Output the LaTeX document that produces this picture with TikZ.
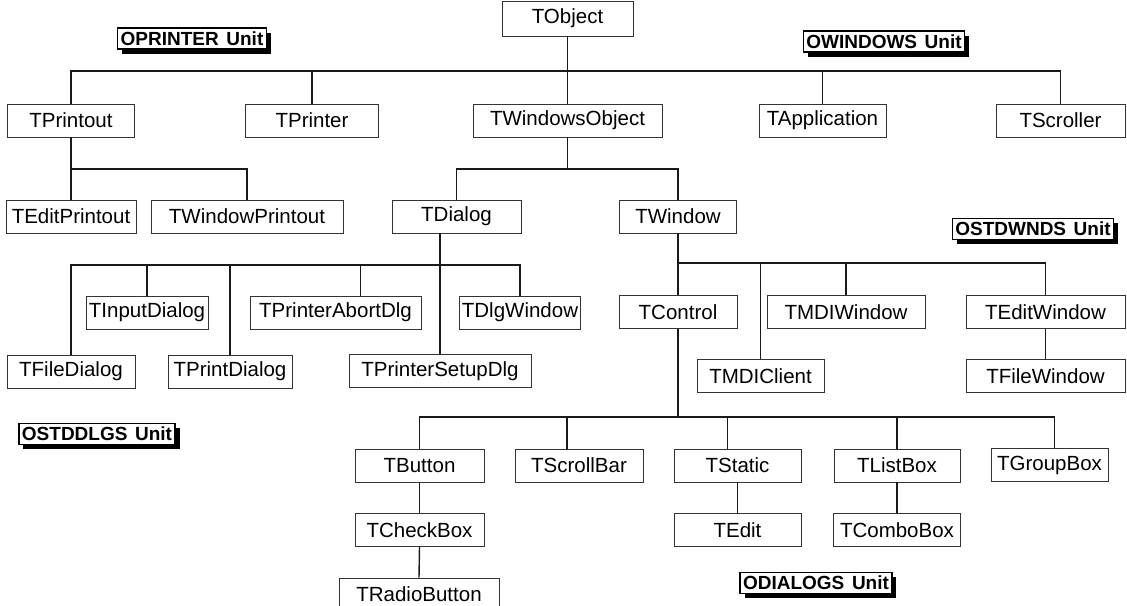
\documentclass[tikz,border=0pt]{standalone}
\usepackage{fontspec}
\setmainfont{Liberation Sans}
\usetikzlibrary{shadows}
\begin{document}
\begin{tikzpicture}[x=1pt,y=-1pt,
  cls/.style={draw=black!80, line width=0.8pt, inner sep=0pt, minimum height=33pt,
    font=\fontsize{20.5}{24}\selectfont, text=black},
  link/.style={line width=1.4pt, draw=black!90},
  unitlbl/.style={draw, line width=1.3pt, fill=white, inner xsep=3pt, inner ysep=1pt,
    minimum height=21pt, font=\bfseries\fontsize{19}{21}\selectfont,
    drop shadow={shadow xshift=4.5pt, shadow yshift=-4.5pt, fill=black, opacity=1}}]
\useasboundingbox (0,0) rectangle (1127,605);
\clip (0,0) rectangle (1127,605);

% unit labels
\node[unitlbl] (uprinter) at (192,38.5) {OPRINTER\hspace{0.4em}Unit};
\node[unitlbl] (uwindows) at (884,41.5) {OWINDOWS\hspace{0.4em}Unit};
\node[unitlbl] (ustdwnds) at (1033,229) {OSTDWNDS\hspace{0.4em}Unit};
\node[unitlbl] (ustddlgs) at (97,434) {OSTDDLGS\hspace{0.4em}Unit};
\node[unitlbl] (udialogs) at (816,583) {ODIALOGS\hspace{0.4em}Unit};

% level 0
\node[cls, minimum width=131pt, minimum height=35pt] (TObject) at (567.5,18.5) {TObject};
% level 1
\node[cls, minimum width=127pt] (TPrintout) at (71,120.5) {TPrintout};
\node[cls, minimum width=133pt] (TPrinter) at (312,120.5) {TPrinter};
\node[cls, minimum width=189pt] (TWindowsObject) at (567.5,120.5) {TWindowsObject};
\node[cls, minimum width=127pt] (TApplication) at (822.5,120.5) {TApplication};
\node[cls, minimum width=129pt] (TScroller) at (1060.5,120.5) {TScroller};
% level 2
\node[cls, minimum width=130pt] (TEditPrintout) at (71,216.5) {TEditPrintout};
\node[cls, minimum width=192pt] (TWindowPrintout) at (247,216.5) {TWindowPrintout};
\node[cls, minimum width=129pt] (TDialog) at (456.5,216.5) {TDialog};
\node[cls, minimum width=117pt] (TWindow) at (678,216.5) {TWindow};
% level 3
\node[cls, minimum width=122pt] (TInputDialog) at (147,312.5) {TInputDialog};
\node[cls, minimum width=171pt] (TPrinterAbortDlg) at (335.5,312.5) {TPrinterAbortDlg};
\node[cls, minimum width=121pt] (TDlgWindow) at (520,312.5) {TDlgWindow};
\node[cls, minimum width=118pt] (TControl) at (678,312) {TControl};
\node[cls, minimum width=158pt] (TMDIWindow) at (846,312) {TMDIWindow};
\node[cls, minimum width=159pt] (TEditWindow) at (1045.5,312) {TEditWindow};
% level 4
\node[cls, minimum width=128pt] (TFileDialog) at (71,371.5) {TFileDialog};
\node[cls, minimum width=124pt] (TPrintDialog) at (230,371.5) {TPrintDialog};
\node[cls, minimum width=182pt] (TPrinterSetupDlg) at (440,371) {TPrinterSetupDlg};
\node[cls, minimum width=127pt] (TMDIClient) at (760.5,376) {TMDIClient};
\node[cls, minimum width=159pt] (TFileWindow) at (1045.5,376) {TFileWindow};
% level 5
\node[cls, minimum width=129pt] (TButton) at (419.5,465.5) {TButton};
\node[cls, minimum width=128pt] (TScrollBar) at (579,465.5) {TScrollBar};
\node[cls, minimum width=127pt] (TStatic) at (737.5,465.5) {TStatic};
\node[cls, minimum width=126pt] (TListBox) at (897,465.5) {TListBox};
\node[cls, minimum width=117pt] (TGroupBox) at (1049.5,465) {TGroupBox};
% level 6
\node[cls, minimum width=129pt] (TCheckBox) at (419.5,530) {TCheckBox};
\node[cls, minimum width=127pt] (TEdit) at (737.5,530) {TEdit};
\node[cls, minimum width=127pt] (TComboBox) at (897,530) {TComboBox};
% level 7
\node[cls, minimum width=160pt] (TRadioButton) at (419,594.5) {TRadioButton};

% bus coordinates
\coordinate (b0) at (0,71);
\coordinate (b1) at (0,169);
\coordinate (b2) at (0,265);
\coordinate (b3) at (0,263);
\coordinate (b4) at (0,417);
\path ([xshift=25pt]TPrinterAbortDlg.north) coordinate (pad)
      ([xshift=-12pt]TScrollBar.north) coordinate (sbn)
      ([xshift=-10pt]TStatic.north) coordinate (stn)
      ([xshift=5pt]TGroupBox.north) coordinate (gbn);

% connectors
\draw[link] (TObject.south) -- (TWindowsObject.north);
\draw[link] (TPrintout.north) -- (TPrintout.north |- b0) -- (TScroller.north |- b0) -- (TScroller.north);
\draw[link] (TPrinter.north) -- (TPrinter.north |- b0);
\draw[link] (TApplication.north) -- (TApplication.north |- b0);

\draw[link] (TPrintout.south) -- (TEditPrintout.north);
\draw[link] (TPrintout.south |- b1) -- (TWindowPrintout.north |- b1) -- (TWindowPrintout.north);
\draw[link] (TWindowsObject.south) -- (TWindowsObject.south |- b1);
\draw[link] (TDialog.north) -- (TDialog.north |- b1) -- (TWindow.north |- b1) -- (TWindow.north);

\draw[link] (TDialog.south -| TPrinterSetupDlg.north) -- (TPrinterSetupDlg.north);
\draw[link] (TFileDialog.north) -- (TFileDialog.north |- b2) -- (TDlgWindow.north |- b2) -- (TDlgWindow.north);
\draw[link] (TInputDialog.north) -- (TInputDialog.north |- b2);
\draw[link] (TPrintDialog.north) -- (TPrintDialog.north |- b2);
\draw[link] (pad) -- (pad |- b2);

\draw[link] (TWindow.south) -- (TControl.north);
\draw[link] (TWindow.south |- b3) -- (TEditWindow.north |- b3) -- (TEditWindow.north);
\draw[link] (TMDIClient.north) -- (TMDIClient.north |- b3);
\draw[link] (TMDIWindow.north) -- (TMDIWindow.north |- b3);
\draw[link] (TEditWindow.south) -- (TFileWindow.north);

\draw[link] (TControl.south) -- (TControl.south |- b4);
\draw[link] (TButton.north) -- (TButton.north |- b4) -- (gbn |- b4) -- (gbn);
\draw[link] (sbn) -- (sbn |- b4);
\draw[link] (stn) -- (stn |- b4);
\draw[link] (TListBox.north) -- (TListBox.north |- b4);
\draw[link] (TButton.south) -- (TCheckBox.north);
\draw[link] (TCheckBox.south) -- (TRadioButton.north);
\draw[link] (TStatic.south) -- (TEdit.north);
\draw[link] (TListBox.south) -- (TComboBox.north);
\end{tikzpicture}
\end{document}
